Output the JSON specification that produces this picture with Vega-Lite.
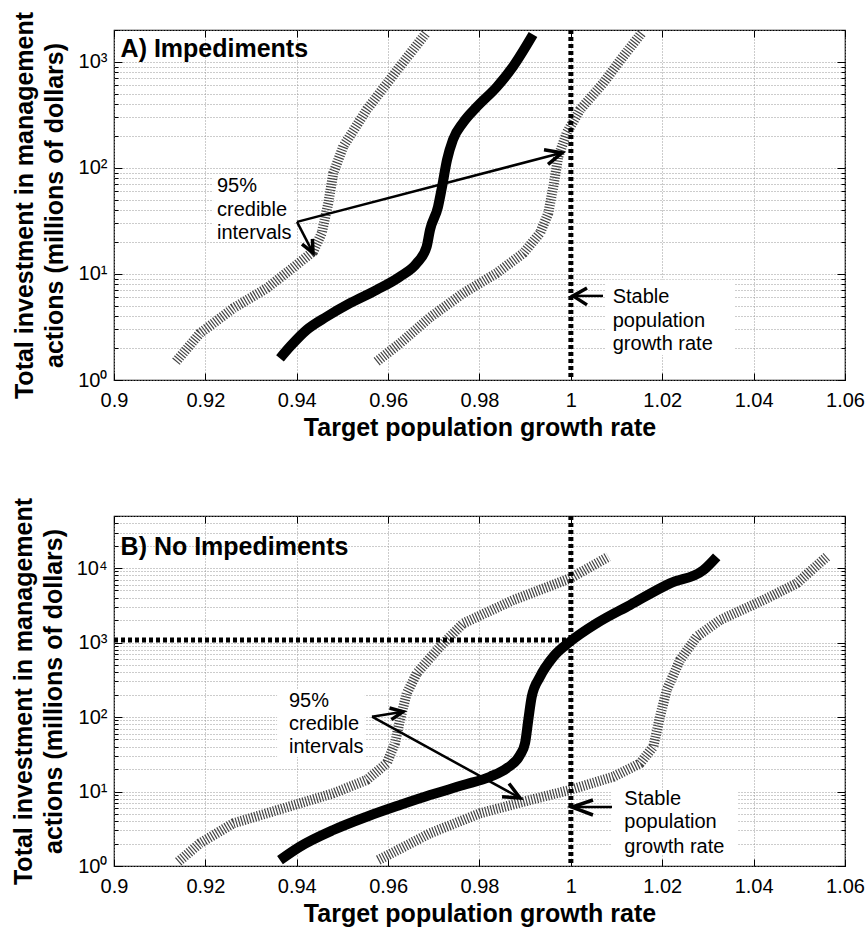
{
  "$schema": "https://vega.github.io/schema/vega-lite/v6.json",
  "padding": {"left": 10, "top": 10, "right": 0, "bottom": 5},
  "spacing": 55,
  "config": {
    "font": "Liberation Sans",
    "view": {"stroke": "#000", "strokeWidth": 1.2},
    "axis": {
      "domain": false,
      "gridColor": "#999",
      "gridDash": [1, 2],
      "gridWidth": 1,
      "tickColor": "#000",
      "tickWidth": 1,
      "labelColor": "#000",
      "labelFont": "Liberation Sans",
      "labelFontSize": 20,
      "titleFont": "Liberation Sans",
      "titleFontSize": 25,
      "titleFontWeight": "bold",
      "titleColor": "#000"
    }
  },
  "datasets": {
    "curvesA": [
      {"s": "lo", "x": 0.91357, "y": 1.49}, {"s": "lo", "x": 0.91882, "y": 2.76}, {"s": "lo", "x": 0.92611, "y": 4.75}, {"s": "lo", "x": 0.93342, "y": 7.34}, {"s": "lo", "x": 0.93852, "y": 10.9}, {"s": "lo", "x": 0.94362, "y": 16.3}, {"s": "lo", "x": 0.94546, "y": 24.3}, {"s": "lo", "x": 0.94691, "y": 46.6}, {"s": "lo", "x": 0.948, "y": 89.5}, {"s": "lo", "x": 0.95019, "y": 160}, {"s": "lo", "x": 0.95531, "y": 354}, {"s": "lo", "x": 0.9626, "y": 908}, {"s": "lo", "x": 0.96844, "y": 1900},
      {"s": "med", "x": 0.93633, "y": 1.6}, {"s": "med", "x": 0.93852, "y": 2.06}, {"s": "med", "x": 0.94218, "y": 2.97}, {"s": "med", "x": 0.94656, "y": 3.96}, {"s": "med", "x": 0.95166, "y": 5.3}, {"s": "med", "x": 0.9575, "y": 7.08}, {"s": "med", "x": 0.9626, "y": 9.45}, {"s": "med", "x": 0.96625, "y": 12.6}, {"s": "med", "x": 0.96844, "y": 18.1}, {"s": "med", "x": 0.96917, "y": 26.1}, {"s": "med", "x": 0.97092, "y": 43}, {"s": "med", "x": 0.97179, "y": 66}, {"s": "med", "x": 0.97289, "y": 119}, {"s": "med", "x": 0.9742, "y": 185}, {"s": "med", "x": 0.97639, "y": 267}, {"s": "med", "x": 0.97945, "y": 378}, {"s": "med", "x": 0.98383, "y": 584}, {"s": "med", "x": 0.98733, "y": 903}, {"s": "med", "x": 0.99171, "y": 1811},
      {"s": "hi", "x": 0.9575, "y": 1.49}, {"s": "hi", "x": 0.9626, "y": 2.22}, {"s": "hi", "x": 0.96917, "y": 3.9}, {"s": "hi", "x": 0.97646, "y": 6.59}, {"s": "hi", "x": 0.98377, "y": 10.2}, {"s": "hi", "x": 0.98959, "y": 15.7}, {"s": "hi", "x": 0.99324, "y": 24.3}, {"s": "hi", "x": 0.99506, "y": 37.5}, {"s": "hi", "x": 0.99616, "y": 66.9}, {"s": "hi", "x": 0.99725, "y": 128}, {"s": "hi", "x": 0.99909, "y": 214}, {"s": "hi", "x": 1.002, "y": 354}, {"s": "hi", "x": 1.0071, "y": 633}, {"s": "hi", "x": 1.01148, "y": 1130}, {"s": "hi", "x": 1.0155, "y": 1878}
    ],
    "curvesB": [
      {"s": "lo", "x": 0.91407, "y": 1.14}, {"s": "lo", "x": 0.91882, "y": 2.02}, {"s": "lo", "x": 0.92611, "y": 3.74}, {"s": "lo", "x": 0.93706, "y": 5.95}, {"s": "lo", "x": 0.948, "y": 9.46}, {"s": "lo", "x": 0.95531, "y": 14.3}, {"s": "lo", "x": 0.95969, "y": 23.9}, {"s": "lo", "x": 0.9615, "y": 44.4}, {"s": "lo", "x": 0.9626, "y": 91.2}, {"s": "lo", "x": 0.96407, "y": 208}, {"s": "lo", "x": 0.96626, "y": 386}, {"s": "lo", "x": 0.96917, "y": 620}, {"s": "lo", "x": 0.97136, "y": 879}, {"s": "lo", "x": 0.97646, "y": 1811}, {"s": "lo", "x": 0.9874, "y": 3719}, {"s": "lo", "x": 0.99981, "y": 7270}, {"s": "lo", "x": 1.0082, "y": 14180},
      {"s": "med", "x": 0.93633, "y": 1.2}, {"s": "med", "x": 0.94071, "y": 1.82}, {"s": "med", "x": 0.948, "y": 3.04}, {"s": "med", "x": 0.95531, "y": 4.59}, {"s": "med", "x": 0.9626, "y": 6.59}, {"s": "med", "x": 0.96917, "y": 8.97}, {"s": "med", "x": 0.97646, "y": 12.2}, {"s": "med", "x": 0.9823, "y": 15.8}, {"s": "med", "x": 0.98596, "y": 20.5}, {"s": "med", "x": 0.98887, "y": 30.9}, {"s": "med", "x": 0.98996, "y": 44.4}, {"s": "med", "x": 0.99068, "y": 91.2}, {"s": "med", "x": 0.99143, "y": 187}, {"s": "med", "x": 0.99324, "y": 347}, {"s": "med", "x": 0.99616, "y": 645}, {"s": "med", "x": 0.99981, "y": 1025}, {"s": "med", "x": 1.00565, "y": 1811}, {"s": "med", "x": 1.01294, "y": 3188}, {"s": "med", "x": 1.0217, "y": 6234}, {"s": "med", "x": 1.029, "y": 9400}, {"s": "med", "x": 1.03192, "y": 14180},
      {"s": "hi", "x": 0.95785, "y": 1.2}, {"s": "hi", "x": 0.96917, "y": 2.75}, {"s": "hi", "x": 0.98011, "y": 5.1}, {"s": "hi", "x": 0.99106, "y": 7.69}, {"s": "hi", "x": 0.99981, "y": 10.5}, {"s": "hi", "x": 1.00929, "y": 15.8}, {"s": "hi", "x": 1.01513, "y": 23.9}, {"s": "hi", "x": 1.01804, "y": 39.9}, {"s": "hi", "x": 1.0195, "y": 101}, {"s": "hi", "x": 1.02097, "y": 230}, {"s": "hi", "x": 1.02388, "y": 582}, {"s": "hi", "x": 1.02754, "y": 1197}, {"s": "hi", "x": 1.03264, "y": 2004}, {"s": "hi", "x": 1.04212, "y": 3719}, {"s": "hi", "x": 1.04943, "y": 6234}, {"s": "hi", "x": 1.05271, "y": 9400}, {"s": "hi", "x": 1.056, "y": 14180}
    ],
    "masksA": [
      {"x": 0.9217, "x2": 0.9392, "y": 21, "y2": 82.6},
      {"x": 1.0075, "x2": 1.0359, "y": 1.72, "y2": 8.8}
    ],
    "masksB": [
      {"x": 0.9357, "x2": 0.9549, "y": 29, "y2": 230},
      {"x": 1.009, "x2": 1.0366, "y": 1.4, "y2": 10.5}
    ],
    "arrowsA": [
      {"a": "s1", "k": 0, "x": 0.94006, "y": 31.0}, {"a": "s1", "k": 1, "x": 0.99806, "y": 139},
      {"a": "h1", "k": 0, "x": 0.99412, "y": 148.6}, {"a": "h1", "k": 1, "x": 0.99806, "y": 139}, {"a": "h1", "k": 2, "x": 0.995, "y": 108},
      {"a": "s2", "k": 0, "x": 0.94006, "y": 31.0}, {"a": "s2", "k": 1, "x": 0.94356, "y": 15.8},
      {"a": "h2", "k": 0, "x": 0.94343, "y": 21.4}, {"a": "h2", "k": 1, "x": 0.94356, "y": 15.8}, {"a": "h2", "k": 2, "x": 0.94115, "y": 19.1},
      {"a": "s3", "k": 0, "x": 1.00703, "y": 6.21}, {"a": "s3", "k": 1, "x": 1.00047, "y": 6.21},
      {"a": "h3", "k": 0, "x": 1.00353, "y": 7.39}, {"a": "h3", "k": 1, "x": 1.00047, "y": 6.21}, {"a": "h3", "k": 2, "x": 1.00353, "y": 5.11}
    ],
    "arrowsB": [
      {"a": "s1", "k": 0, "x": 0.95647, "y": 101}, {"a": "s1", "k": 1, "x": 0.96326, "y": 118},
      {"a": "h1", "k": 0, "x": 0.9603, "y": 132}, {"a": "h1", "k": 1, "x": 0.96326, "y": 118}, {"a": "h1", "k": 2, "x": 0.96072, "y": 92.3},
      {"a": "s2", "k": 0, "x": 0.95647, "y": 101}, {"a": "s2", "k": 1, "x": 0.98887, "y": 8.18},
      {"a": "h2", "k": 0, "x": 0.98646, "y": 12.8}, {"a": "h2", "k": 1, "x": 0.98887, "y": 8.18}, {"a": "h2", "k": 2, "x": 0.98493, "y": 8.49},
      {"a": "s3", "k": 0, "x": 1.009, "y": 6.19}, {"a": "s3", "k": 1, "x": 1.00025, "y": 6.19},
      {"a": "h3", "k": 0, "x": 1.00484, "y": 7.69}, {"a": "h3", "k": 1, "x": 1.00025, "y": 6.19}, {"a": "h3", "k": 2, "x": 1.00484, "y": 4.84}
    ],
    "textA": [
      {"t": "95%", "x": 0.92254, "y": 58.7}, {"t": "credible", "x": 0.92254, "y": 35.4}, {"t": "intervals", "x": 0.92254, "y": 21.2},
      {"t": "Stable", "x": 1.00916, "y": 5.28}, {"t": "population", "x": 1.00916, "y": 3.17}, {"t": "growth rate", "x": 1.00916, "y": 1.9}
    ],
    "textB": [
      {"t": "95%", "x": 0.9383, "y": 137.5}, {"t": "credible", "x": 0.9383, "y": 66.9}, {"t": "intervals", "x": 0.9383, "y": 32.6},
      {"t": "Stable", "x": 1.0117, "y": 6.59}, {"t": "population", "x": 1.0117, "y": 3.21}, {"t": "growth rate", "x": 1.0117, "y": 1.48}
    ],
    "titleA": [{"t": "A) Impediments", "x": 0.90144, "y": 1122}],
    "titleB": [{"t": "B) No Impediments", "x": 0.90144, "y": 14940}],
    "vline": [{"x": 1.0}],
    "hlineB": [{"x": 0.9, "x2": 1.0, "y": 1081}],
    "dummy": [{"x": 0.9, "y": 1}]
  },
  "vconcat": [
    {
      "width": 731,
      "height": 350,
      "layer": [
        {
          "layer": [
            {
              "data": {"name": "masksA"},
              "mark": {"type": "rect", "fill": "white"},
              "encoding": {
                "x": {"field": "x", "type": "quantitative", "scale": {"domain": [0.9, 1.06], "nice": false, "zero": false},
                  "axis": {"title": "Target population growth rate", "values": [0.9, 0.92, 0.94, 0.96, 0.98, 1.0, 1.02, 1.04, 1.06], "format": "~g", "labelFlush": false, "labelOverlap": false, "tickSize": -7, "labelPadding": 17, "titlePadding": 5}},
                "x2": {"field": "x2"},
                "y": {"field": "y", "type": "quantitative", "scale": {"type": "log", "domain": [1, 2000], "nice": false},
                  "axis": {"title": ["Total investment in management", "actions (millions of dollars)"], "titleLineHeight": 30, "titlePadding": 10,
                    "values": [1, 2, 3, 4, 5, 6, 7, 8, 9, 10, 20, 30, 40, 50, 60, 70, 80, 90, 100, 200, 300, 400, 500, 600, 700, 800, 900, 1000, 2000],
                    "labelExpr": "datum.value == 1 ? '10⁰' : datum.value == 10 ? '10¹' : datum.value == 100 ? '10²' : datum.value == 1000 ? '10³' : datum.value == 10000 ? '10⁴' : ''",
                    "labelOverlap": false, "labelFlush": false,
                    "tickSize": {"condition": {"test": "datum.value == 1 || datum.value == 10 || datum.value == 100 || datum.value == 1000 || datum.value == 10000", "value": -8}, "value": -4},
                    "labelPadding": 15}},
                "y2": {"field": "y2"}
              }
            },
            {
              "data": {"name": "curvesA"},
              "transform": [{"filter": "datum.s != 'med'"}],
              "mark": {"type": "line", "stroke": "#444", "strokeWidth": 10, "strokeDash": [1.2, 1.6], "strokeCap": "butt", "clip": true},
              "encoding": {"x": {"field": "x", "type": "quantitative"}, "y": {"field": "y", "type": "quantitative"}, "detail": {"field": "s"}}
            },
            {
              "data": {"name": "curvesA"},
              "transform": [{"filter": "datum.s == 'med'"}],
              "mark": {"type": "line", "stroke": "#000", "strokeWidth": 10, "strokeCap": "butt", "interpolate": "monotone", "clip": true},
              "encoding": {"x": {"field": "x", "type": "quantitative"}, "y": {"field": "y", "type": "quantitative"}}
            },
            {
              "data": {"name": "vline"},
              "mark": {"type": "rule", "stroke": "#000", "strokeWidth": 5, "strokeDash": [4, 3]},
              "encoding": {"x": {"field": "x", "type": "quantitative"}}
            },
            {
              "data": {"name": "arrowsA"},
              "transform": [{"filter": "datum.a[0] == 's'"}],
              "mark": {"type": "line", "stroke": "#000", "strokeWidth": 2.5},
              "encoding": {"x": {"field": "x", "type": "quantitative"}, "y": {"field": "y", "type": "quantitative"}, "detail": {"field": "a"}, "order": {"field": "k"}}
            },
            {
              "data": {"name": "arrowsA"},
              "transform": [{"filter": "datum.a[0] == 'h'"}],
              "mark": {"type": "line", "stroke": "#000", "strokeWidth": 3.5, "strokeJoin": "miter"},
              "encoding": {"x": {"field": "x", "type": "quantitative"}, "y": {"field": "y", "type": "quantitative"}, "detail": {"field": "a"}, "order": {"field": "k"}}
            },
            {
              "data": {"name": "textA"},
              "mark": {"type": "text", "align": "left", "baseline": "alphabetic", "fontSize": 20, "color": "#000"},
              "encoding": {"x": {"field": "x", "type": "quantitative"}, "y": {"field": "y", "type": "quantitative"}, "text": {"field": "t"}}
            },
            {
              "data": {"name": "titleA"},
              "mark": {"type": "text", "align": "left", "baseline": "alphabetic", "fontSize": 25, "fontWeight": "bold", "color": "#000"},
              "encoding": {"x": {"field": "x", "type": "quantitative"}, "y": {"field": "y", "type": "quantitative"}, "text": {"field": "t"}}
            }
          ]
        },
        {
          "data": {"name": "dummy"},
          "mark": {"type": "point", "opacity": 0},
          "encoding": {
            "x": {"field": "x", "type": "quantitative", "scale": {"domain": [0.9, 1.06], "nice": false, "zero": false},
              "axis": {"orient": "top", "title": null, "labels": false, "grid": false, "values": [0.9, 0.92, 0.94, 0.96, 0.98, 1.0, 1.02, 1.04, 1.06], "tickSize": -7}},
            "y": {"field": "y", "type": "quantitative", "scale": {"type": "log", "domain": [1, 2000], "nice": false},
              "axis": {"orient": "right", "title": null, "labels": false, "grid": false,
                "values": [1, 2, 3, 4, 5, 6, 7, 8, 9, 10, 20, 30, 40, 50, 60, 70, 80, 90, 100, 200, 300, 400, 500, 600, 700, 800, 900, 1000, 2000],
                "tickSize": {"condition": {"test": "datum.value == 1 || datum.value == 10 || datum.value == 100 || datum.value == 1000 || datum.value == 10000", "value": -8}, "value": -4}}}
          }
        }
      ],
      "resolve": {"axis": {"x": "independent", "y": "independent"}}
    },
    {
      "width": 731,
      "height": 350,
      "layer": [
        {
          "layer": [
            {
              "data": {"name": "masksB"},
              "mark": {"type": "rect", "fill": "white"},
              "encoding": {
                "x": {"field": "x", "type": "quantitative", "scale": {"domain": [0.9, 1.06], "nice": false, "zero": false},
                  "axis": {"title": "Target population growth rate", "values": [0.9, 0.92, 0.94, 0.96, 0.98, 1.0, 1.02, 1.04, 1.06], "format": "~g", "labelFlush": false, "labelOverlap": false, "tickSize": -7, "labelPadding": 17, "titlePadding": 5}},
                "x2": {"field": "x2"},
                "y": {"field": "y", "type": "quantitative", "scale": {"type": "log", "domain": [1, 50000], "nice": false},
                  "axis": {"title": ["Total investment in management", "actions (millions of dollars)"], "titleLineHeight": 30, "titlePadding": 10,
                    "values": [1, 2, 3, 4, 5, 6, 7, 8, 9, 10, 20, 30, 40, 50, 60, 70, 80, 90, 100, 200, 300, 400, 500, 600, 700, 800, 900, 1000, 2000, 3000, 4000, 5000, 6000, 7000, 8000, 9000, 10000, 20000, 30000, 40000, 50000],
                    "labelExpr": "datum.value == 1 ? '10⁰' : datum.value == 10 ? '10¹' : datum.value == 100 ? '10²' : datum.value == 1000 ? '10³' : datum.value == 10000 ? '10⁴' : ''",
                    "labelOverlap": false, "labelFlush": false,
                    "tickSize": {"condition": {"test": "datum.value == 1 || datum.value == 10 || datum.value == 100 || datum.value == 1000 || datum.value == 10000", "value": -8}, "value": -4},
                    "labelPadding": 15}},
                "y2": {"field": "y2"}
              }
            },
            {
              "data": {"name": "curvesB"},
              "transform": [{"filter": "datum.s != 'med'"}],
              "mark": {"type": "line", "stroke": "#444", "strokeWidth": 10, "strokeDash": [1.2, 1.6], "strokeCap": "butt", "clip": true},
              "encoding": {"x": {"field": "x", "type": "quantitative"}, "y": {"field": "y", "type": "quantitative"}, "detail": {"field": "s"}}
            },
            {
              "data": {"name": "curvesB"},
              "transform": [{"filter": "datum.s == 'med'"}],
              "mark": {"type": "line", "stroke": "#000", "strokeWidth": 10, "strokeCap": "butt", "interpolate": "monotone", "clip": true},
              "encoding": {"x": {"field": "x", "type": "quantitative"}, "y": {"field": "y", "type": "quantitative"}}
            },
            {
              "data": {"name": "vline"},
              "mark": {"type": "rule", "stroke": "#000", "strokeWidth": 5, "strokeDash": [4, 3]},
              "encoding": {"x": {"field": "x", "type": "quantitative"}}
            },
            {
              "data": {"name": "hlineB"},
              "mark": {"type": "rule", "stroke": "#000", "strokeWidth": 5, "strokeDash": [4, 3]},
              "encoding": {"x": {"field": "x", "type": "quantitative"}, "x2": {"field": "x2"}, "y": {"field": "y", "type": "quantitative"}}
            },
            {
              "data": {"name": "arrowsB"},
              "transform": [{"filter": "datum.a[0] == 's'"}],
              "mark": {"type": "line", "stroke": "#000", "strokeWidth": 2.5},
              "encoding": {"x": {"field": "x", "type": "quantitative"}, "y": {"field": "y", "type": "quantitative"}, "detail": {"field": "a"}, "order": {"field": "k"}}
            },
            {
              "data": {"name": "arrowsB"},
              "transform": [{"filter": "datum.a[0] == 'h'"}],
              "mark": {"type": "line", "stroke": "#000", "strokeWidth": 3.5, "strokeJoin": "miter"},
              "encoding": {"x": {"field": "x", "type": "quantitative"}, "y": {"field": "y", "type": "quantitative"}, "detail": {"field": "a"}, "order": {"field": "k"}}
            },
            {
              "data": {"name": "textB"},
              "mark": {"type": "text", "align": "left", "baseline": "alphabetic", "fontSize": 20, "color": "#000"},
              "encoding": {"x": {"field": "x", "type": "quantitative"}, "y": {"field": "y", "type": "quantitative"}, "text": {"field": "t"}}
            },
            {
              "data": {"name": "titleB"},
              "mark": {"type": "text", "align": "left", "baseline": "alphabetic", "fontSize": 25, "fontWeight": "bold", "color": "#000"},
              "encoding": {"x": {"field": "x", "type": "quantitative"}, "y": {"field": "y", "type": "quantitative"}, "text": {"field": "t"}}
            }
          ]
        },
        {
          "data": {"name": "dummy"},
          "mark": {"type": "point", "opacity": 0},
          "encoding": {
            "x": {"field": "x", "type": "quantitative", "scale": {"domain": [0.9, 1.06], "nice": false, "zero": false},
              "axis": {"orient": "top", "title": null, "labels": false, "grid": false, "values": [0.9, 0.92, 0.94, 0.96, 0.98, 1.0, 1.02, 1.04, 1.06], "tickSize": -7}},
            "y": {"field": "y", "type": "quantitative", "scale": {"type": "log", "domain": [1, 50000], "nice": false},
              "axis": {"orient": "right", "title": null, "labels": false, "grid": false,
                "values": [1, 2, 3, 4, 5, 6, 7, 8, 9, 10, 20, 30, 40, 50, 60, 70, 80, 90, 100, 200, 300, 400, 500, 600, 700, 800, 900, 1000, 2000, 3000, 4000, 5000, 6000, 7000, 8000, 9000, 10000, 20000, 30000, 40000, 50000],
                "tickSize": {"condition": {"test": "datum.value == 1 || datum.value == 10 || datum.value == 100 || datum.value == 1000 || datum.value == 10000", "value": -8}, "value": -4}}}
          }
        }
      ],
      "resolve": {"axis": {"x": "independent", "y": "independent"}}
    }
  ]
}
